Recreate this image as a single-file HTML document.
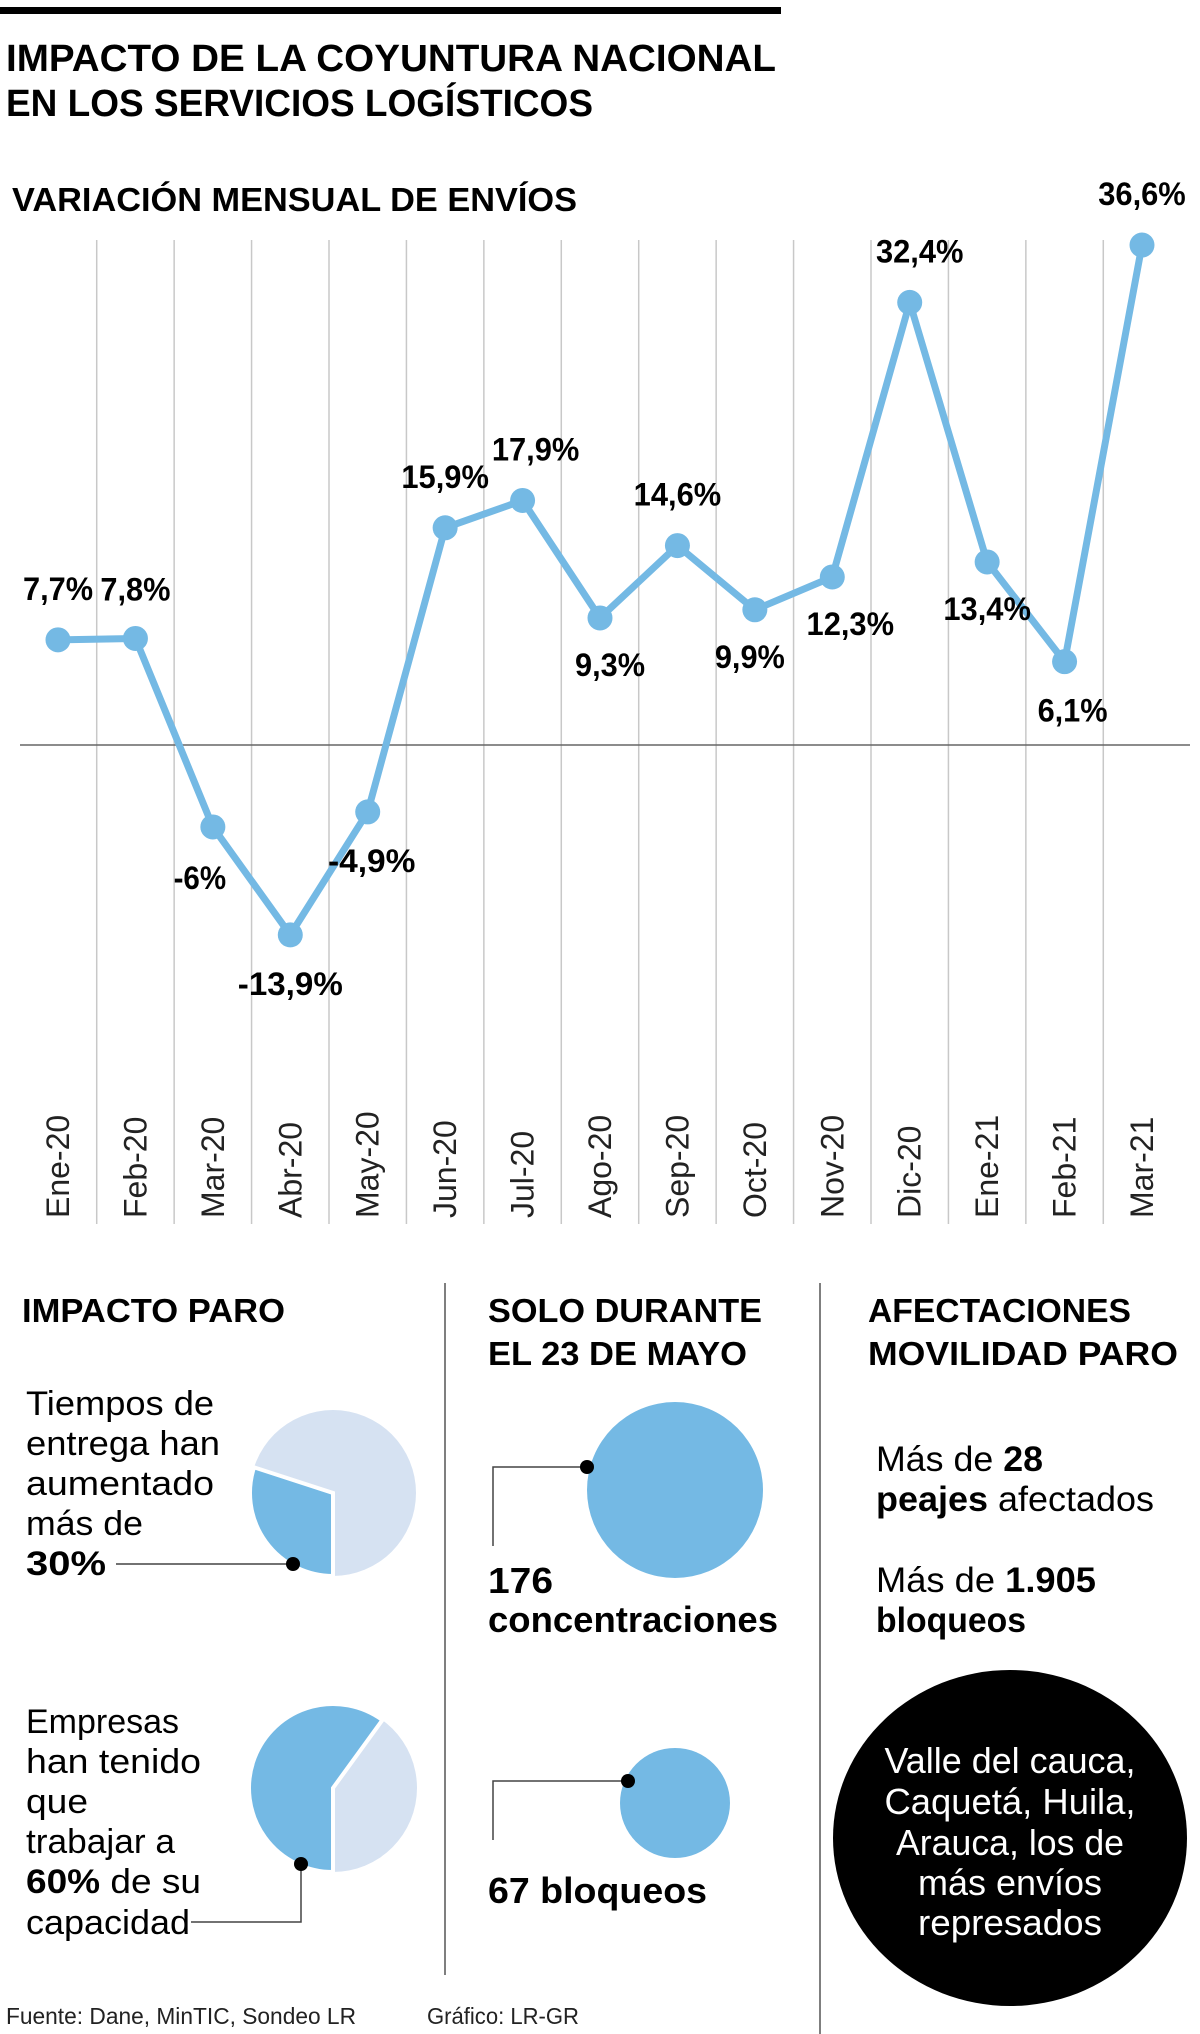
<!DOCTYPE html>
<html><head><meta charset="utf-8"><style>
html,body{margin:0;padding:0;background:#fff;}
svg{display:block;font-family:"Liberation Sans",sans-serif;}
</style></head><body>
<svg id="root" width="1200" height="2034" viewBox="0 0 1200 2034" xmlns="http://www.w3.org/2000/svg">
<rect x="0" y="7" width="781" height="7" fill="#000"/>
<text x="6" y="71" font-size="38" font-weight="bold" textLength="770" lengthAdjust="spacingAndGlyphs">IMPACTO DE LA COYUNTURA NACIONAL</text>
<text x="6" y="116" font-size="38" font-weight="bold" textLength="587" lengthAdjust="spacingAndGlyphs">EN LOS SERVICIOS LOGÍSTICOS</text>
<text x="12" y="211" font-size="33" font-weight="bold" textLength="565" lengthAdjust="spacingAndGlyphs">VARIACIÓN MENSUAL DE ENVÍOS</text>
<g id="chart"></g>

<line x1="445" y1="1283" x2="445" y2="1975" stroke="#555" stroke-width="1.5"/>
<line x1="820" y1="1283" x2="820" y2="2034" stroke="#555" stroke-width="1.5"/>

<text x="22" y="1322" font-size="33" font-weight="bold" textLength="263" lengthAdjust="spacingAndGlyphs">IMPACTO PARO</text>
<text x="488" y="1322" font-size="33" font-weight="bold" textLength="274" lengthAdjust="spacingAndGlyphs">SOLO DURANTE</text>
<text x="488" y="1365" font-size="33" font-weight="bold" textLength="259" lengthAdjust="spacingAndGlyphs">EL 23 DE MAYO</text>
<text x="868" y="1322" font-size="33" font-weight="bold" textLength="263" lengthAdjust="spacingAndGlyphs">AFECTACIONES</text>
<text x="868" y="1365" font-size="33" font-weight="bold" textLength="310" lengthAdjust="spacingAndGlyphs">MOVILIDAD PARO</text>

<g font-size="34">
<text x="26" y="1415" textLength="188" lengthAdjust="spacingAndGlyphs">Tiempos de</text>
<text x="26" y="1455" textLength="194" lengthAdjust="spacingAndGlyphs">entrega han</text>
<text x="26" y="1495" textLength="188" lengthAdjust="spacingAndGlyphs">aumentado</text>
<text x="26" y="1535" textLength="117" lengthAdjust="spacingAndGlyphs">más de</text>
<text x="26" y="1575" font-weight="bold" textLength="80" lengthAdjust="spacingAndGlyphs">30%</text>
</g>
<g id="pie1"></g>
<line x1="116" y1="1564" x2="293" y2="1564" stroke="#444" stroke-width="1.5"/>
<circle cx="293" cy="1564" r="7" fill="#000"/>

<g font-size="34">
<text x="26" y="1733" textLength="153" lengthAdjust="spacingAndGlyphs">Empresas</text>
<text x="26" y="1773" textLength="175" lengthAdjust="spacingAndGlyphs">han tenido</text>
<text x="26" y="1813" textLength="62" lengthAdjust="spacingAndGlyphs">que</text>
<text x="26" y="1853" textLength="149" lengthAdjust="spacingAndGlyphs">trabajar a</text>
<text x="26" y="1893" textLength="175" lengthAdjust="spacingAndGlyphs"><tspan font-weight="bold">60%</tspan> de su</text>
<text x="26" y="1934" textLength="164" lengthAdjust="spacingAndGlyphs">capacidad</text>
</g>
<g id="pie2"></g>
<polyline points="301,1864 301,1922 191,1922" fill="none" stroke="#444" stroke-width="1.5"/>
<circle cx="301" cy="1864" r="7" fill="#000"/>

<circle cx="675" cy="1490" r="88" fill="#74b9e4"/>
<polyline points="587,1467 493,1467 493,1546" fill="none" stroke="#444" stroke-width="1.5"/>
<circle cx="587" cy="1467" r="7" fill="#000"/>
<text x="488" y="1593" font-size="36" font-weight="bold" textLength="65" lengthAdjust="spacingAndGlyphs">176</text>
<text x="488" y="1632" font-size="36" font-weight="bold" textLength="290" lengthAdjust="spacingAndGlyphs">concentraciones</text>

<circle cx="675" cy="1803" r="55" fill="#74b9e4"/>
<polyline points="628,1781 493,1781 493,1840" fill="none" stroke="#444" stroke-width="1.5"/>
<circle cx="628" cy="1781" r="7" fill="#000"/>
<text x="488" y="1903" font-size="36" font-weight="bold" textLength="219" lengthAdjust="spacingAndGlyphs">67 bloqueos</text>

<g font-size="35">
<text x="876" y="1471" textLength="167" lengthAdjust="spacingAndGlyphs">Más de <tspan font-weight="bold">28</tspan></text>
<text x="876" y="1511" textLength="278" lengthAdjust="spacingAndGlyphs"><tspan font-weight="bold">peajes</tspan> afectados</text>
<text x="876" y="1592" textLength="220" lengthAdjust="spacingAndGlyphs">Más de <tspan font-weight="bold">1.905</tspan></text>
<text x="876" y="1632" font-weight="bold" textLength="150" lengthAdjust="spacingAndGlyphs">bloqueos</text>
</g>
<ellipse cx="1010" cy="1838" rx="177" ry="168" fill="#000"/>
<g font-size="36" fill="#fff" text-anchor="middle">
<text x="1010" y="1773" textLength="251" lengthAdjust="spacingAndGlyphs">Valle del cauca,</text>
<text x="1010" y="1814" textLength="251" lengthAdjust="spacingAndGlyphs">Caquetá, Huila,</text>
<text x="1010" y="1855" textLength="228" lengthAdjust="spacingAndGlyphs">Arauca, los de</text>
<text x="1010" y="1895" textLength="184" lengthAdjust="spacingAndGlyphs">más envíos</text>
<text x="1010" y="1935" textLength="184" lengthAdjust="spacingAndGlyphs">represados</text>
</g>
<text x="6" y="2024" font-size="23" fill="#222" textLength="350" lengthAdjust="spacingAndGlyphs">Fuente: Dane, MinTIC, Sondeo LR</text>
<text x="427" y="2024" font-size="23" fill="#222" textLength="152" lengthAdjust="spacingAndGlyphs">Gráfico: LR-GR</text>
</svg>
<script>
const months = ["Ene-20","Feb-20","Mar-20","Abr-20","May-20","Jun-20","Jul-20","Ago-20","Sep-20","Oct-20","Nov-20","Dic-20","Ene-21","Feb-21","Mar-21"];
const values = [7.7,7.8,-6,-13.9,-4.9,15.9,17.9,9.3,14.6,9.9,12.3,32.4,13.4,6.1,36.6];
const valueLabels = ["7,7%","7,8%","-6%","-13,9%","-4,9%","15,9%","17,9%","9,3%","14,6%","9,9%","12,3%","32,4%","13,4%","6,1%","36,6%"];
const pie1Share = [30,70];
const pie2Share = [60,40];

const NS = "http://www.w3.org/2000/svg";
const x = i => 58 + i * (1142 - 58) / 14;
const y = v => 745 - v * 13.66;
const ldx = [0,0,-13,0,4,0,13,10,0,-5,18,10,0,8,0];
const ldy = [-40,-38,62,60,60,-40,-40,58,-40,58,58,-40,58,60,-40];

const g = document.getElementById('chart');
function mk(tag, attrs, parent){const e=document.createElementNS(NS,tag);for(const k in attrs)e.setAttribute(k,attrs[k]);(parent||g).appendChild(e);return e;}

for(let i=0;i<months.length-1;i++){
  const gx = x(i) + (x(1)-x(0))/2;
  const l = mk('line',{x1:gx,y1:240,x2:gx,y2:1224,stroke:'#c8c8c8','stroke-width':1.5});
  
  
}
const zl = mk('line',{x1:20,y1:y(0),x2:1190,y2:y(0),stroke:'#666','stroke-width':1.5});



const pl = mk('polyline',{points:values.map((v,i)=>x(i)+','+y(v)).join(' '),fill:'none',stroke:'#74b9e4','stroke-width':7,'stroke-linejoin':'round'});



values.forEach((v,i)=>{
  const c = mk('circle',{cx:x(i),cy:y(v),r:12.5,fill:'#74b9e4'});
  
  
  const t = mk('text',{x:x(i)+ldx[i],y:y(v)+ldy[i],'font-size':32,'font-weight':'bold','text-anchor':'middle',textLength:valueLabels[i].length*17.5,lengthAdjust:'spacingAndGlyphs'});
  t.textContent = valueLabels[i];
  
  
  const m = mk('text',{x:0,y:0,'font-size':32,fill:'#222',transform:`translate(${x(i)+11},1218) rotate(-90)`});
  m.textContent = months[i];
  
  
});

function pie(id, cx, cy, r, share){
  const p = document.getElementById(id);
  const tot = share[0]+share[1];
  const a0 = Math.PI;
  const a1 = a0 + 2*Math.PI*share[0]/tot;
  const pt = a => [cx + r*Math.sin(a), cy - r*Math.cos(a)];
  const [sx,sy]=pt(a0),[ex,ey]=pt(a1);
  const bg = mk('circle',{cx,cy,r,fill:'#d6e2f2'},p);
  
  
  const large = (a1-a0)>Math.PI?1:0;
  const s = mk('path',{d:`M${cx},${cy} L${sx},${sy} A${r},${r} 0 ${large} 1 ${ex},${ey} Z`,fill:'#74b9e4',stroke:'#fff','stroke-width':4},p);
  
  
}
pie('pie1',333,1493,83,pie1Share);
pie('pie2',333,1788,84,pie2Share);
</script>
</body></html>
